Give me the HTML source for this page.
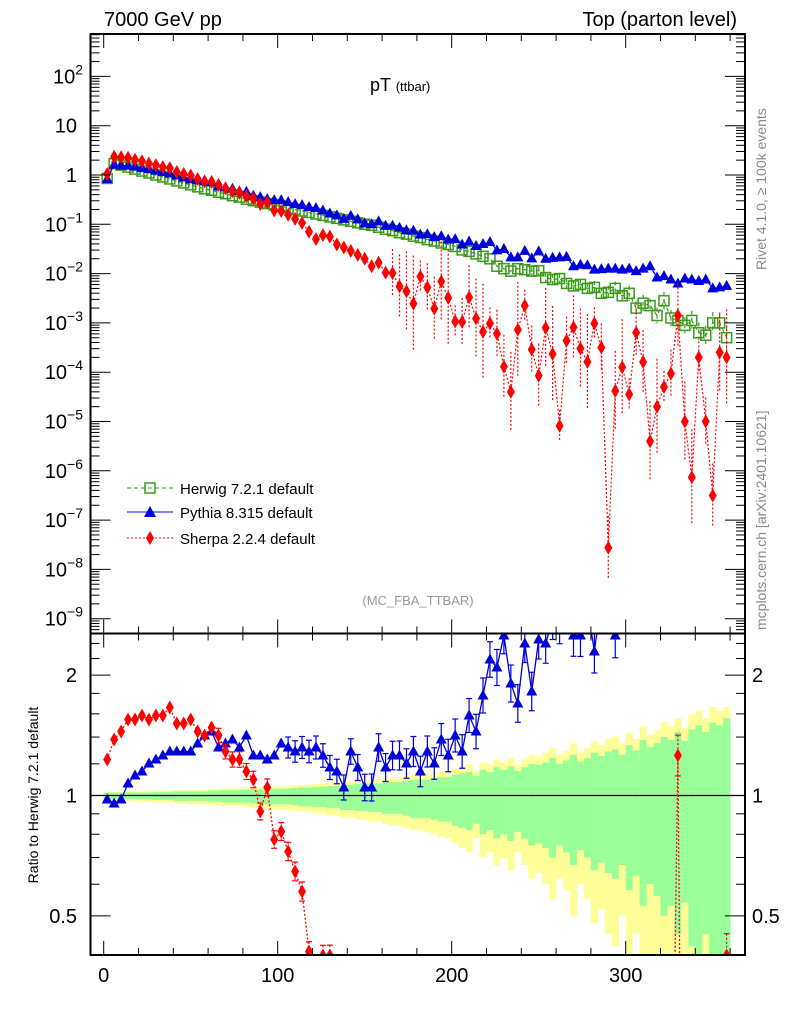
<!DOCTYPE html>
<html><head><meta charset="utf-8"><style>
html,body{margin:0;padding:0;background:#fff;width:786px;height:1024px;overflow:hidden;}
svg{display:block;}
svg text{font-family:"Liberation Sans",sans-serif;}
</style></head><body>
<svg id="chart" width="786" height="1024" xmlns="http://www.w3.org/2000/svg">
<g id="bands"></g>
<g id="marks"></g>
<g id="axes"></g>
<text x="104" y="26" font-size="20">7000 GeV pp</text>
<text x="737" y="26" font-size="20" text-anchor="end">Top (parton level)</text>
<text x="370" y="91" font-size="18">pT <tspan font-size="13">(ttbar)</tspan></text>
<text x="418" y="605" font-size="13" fill="#999" text-anchor="middle">(MC_FBA_TTBAR)</text>
<text transform="translate(766,270) rotate(-90)" font-size="14" fill="#888">Rivet 4.1.0, ≥ 100k events</text>
<text transform="translate(766,630) rotate(-90)" font-size="14" fill="#888">mcplots.cern.ch [arXiv:2401.10621]</text>
<text transform="translate(38,795) rotate(-90)" font-size="14" text-anchor="middle">Ratio to Herwig 7.2.1 default</text>
<g>
<g><line x1="127" y1="488" x2="173" y2="488" stroke="#3a9a1a" stroke-dasharray="4,3"/><rect x="145" y="483" width="10" height="10" fill="none" stroke="#3a9a1a" stroke-width="1.5"/><text x="180" y="494" font-size="15">Herwig 7.2.1 default</text></g>
<g><line x1="127" y1="512" x2="173" y2="512" stroke="#0000dd"/><path d="M150,506 L156,517 L144,517 Z" fill="#0000dd"/><text x="180" y="518" font-size="15">Pythia 8.315 default</text></g>
<g><line x1="127" y1="538" x2="173" y2="538" stroke="#f00" stroke-dasharray="2,2"/><path d="M150,531 L154,538 L150,545 L146,538 Z" fill="#f00"/><text x="180" y="544" font-size="15">Sherpa 2.2.4 default</text></g>
</g>
</svg>
<script>
// bin centres in GeV
const binCenters = [2,6,10,14,18,22,26,30,34,38,42,46,50,54,58,62,66,70,74,78,82,86,90,94,98,102,106,110,114,118,122,126,130,134,138,142,146,150,154,158,162,166,170,174,178,182,186,190,194,198,202,206,210,214,218,222,226,230,234,238,242,246,250,254,258,262,266,270,274,278,282,286,290,294,298,302,306,310,314,318,322,326,330,334,338,342,346,350,354,358];
// log10 of dsigma/dpT
const herwigLog = [-0.07,0.23,0.20,0.16,0.12,0.08,0.04,0.00,-0.04,-0.08,-0.12,-0.16,-0.20,-0.24,-0.28,-0.31,-0.35,-0.38,-0.42,-0.45,-0.49,-0.52,-0.55,-0.58,-0.61,-0.64,-0.67,-0.70,-0.73,-0.76,-0.79,-0.82,-0.85,-0.88,-0.91,-0.94,-0.97,-1.00,-1.02,-1.06,-1.10,-1.13,-1.17,-1.20,-1.24,-1.27,-1.31,-1.34,-1.38,-1.41,-1.45,-1.52,-1.55,-1.60,-1.65,-1.70,-1.85,-1.90,-1.95,-1.90,-1.92,-1.95,-1.94,-2.08,-2.12,-2.10,-2.20,-2.25,-2.22,-2.30,-2.28,-2.40,-2.38,-2.30,-2.45,-2.40,-2.70,-2.60,-2.65,-2.85,-2.55,-2.90,-2.95,-3.05,-2.95,-3.20,-3.25,-3.00,-3.00,-3.30];
const pythiaLog = [-0.08,0.21,0.19,0.19,0.17,0.14,0.12,0.09,0.06,0.03,-0.01,-0.05,-0.09,-0.11,-0.13,-0.15,-0.23,-0.25,-0.28,-0.33,-0.34,-0.42,-0.45,-0.49,-0.51,-0.51,-0.55,-0.59,-0.61,-0.65,-0.67,-0.72,-0.78,-0.82,-0.89,-0.83,-0.90,-0.98,-1.00,-0.94,-1.03,-1.03,-1.07,-1.12,-1.13,-1.21,-1.20,-1.26,-1.24,-1.31,-1.30,-1.41,-1.35,-1.44,-1.40,-1.36,-1.53,-1.50,-1.67,-1.67,-1.54,-1.69,-1.55,-1.70,-1.68,-1.67,-1.66,-1.85,-1.82,-1.83,-1.92,-1.91,-1.90,-1.90,-1.92,-1.90,-1.95,-1.90,-1.85,-2.08,-2.05,-2.12,-2.20,-2.10,-2.12,-2.15,-2.12,-2.30,-2.28,-2.25];
const sherpaLog = [0.02,0.37,0.36,0.35,0.31,0.28,0.23,0.20,0.16,0.14,0.06,0.02,-0.01,-0.08,-0.13,-0.14,-0.20,-0.27,-0.33,-0.36,-0.43,-0.48,-0.59,-0.56,-0.72,-0.73,-0.81,-0.89,-0.97,-1.15,-1.30,-1.22,-1.25,-1.41,-1.47,-1.54,-1.62,-1.70,-1.85,-1.78,-1.98,-1.99,-2.26,-2.36,-2.61,-2.06,-2.28,-2.71,-2.16,-2.49,-2.97,-2.98,-2.48,-2.91,-3.18,-3.01,-3.22,-3.89,-4.40,-3.14,-2.65,-3.54,-4.07,-3.10,-3.63,-5.09,-3.36,-3.09,-3.52,-3.79,-3.01,-3.50,-7.56,-4.38,-3.90,-4.45,-3.20,-3.79,-5.40,-4.70,-4.30,-4.03,-2.85,-5.00,-6.13,-3.70,-5.00,-6.50,-3.60,-3.70];
// relative uncertainties of the Herwig reference
const yellowErr = [0.03,0.03,0.03,0.03,0.035,0.035,0.035,0.04,0.04,0.04,0.045,0.045,0.05,0.05,0.05,0.055,0.055,0.06,0.06,0.06,0.065,0.07,0.07,0.075,0.075,0.08,0.08,0.085,0.09,0.09,0.10,0.10,0.11,0.11,0.12,0.12,0.13,0.13,0.14,0.14,0.15,0.16,0.16,0.17,0.18,0.18,0.19,0.20,0.21,0.22,0.24,0.26,0.28,0.22,0.30,0.28,0.33,0.30,0.35,0.28,0.33,0.38,0.36,0.40,0.45,0.38,0.42,0.50,0.40,0.45,0.52,0.48,0.55,0.58,0.50,0.62,0.55,0.70,0.60,0.65,0.75,0.70,0.80,0.68,0.85,0.90,0.80,0.95,0.90,0.95];
const greenErr = [0.02,0.02,0.02,0.02,0.02,0.02,0.02,0.025,0.025,0.025,0.03,0.03,0.03,0.03,0.03,0.035,0.035,0.04,0.04,0.04,0.04,0.045,0.045,0.05,0.05,0.05,0.05,0.055,0.06,0.06,0.065,0.065,0.07,0.07,0.08,0.08,0.085,0.085,0.09,0.09,0.10,0.10,0.10,0.11,0.12,0.12,0.12,0.13,0.14,0.14,0.16,0.17,0.18,0.15,0.20,0.18,0.22,0.20,0.23,0.19,0.22,0.25,0.24,0.26,0.30,0.25,0.28,0.33,0.27,0.30,0.35,0.32,0.36,0.38,0.33,0.42,0.37,0.47,0.40,0.44,0.50,0.47,0.55,0.46,0.58,0.62,0.55,0.65,0.62,0.70];
const xTicks = [0,100,200,300];
const mainTickExps = [2,1,0,-1,-2,-3,-4,-5,-6,-7,-8,-9];
const ratioTicks = [0.5,1,2];

const NS='http://www.w3.org/2000/svg';
const L=90.5,R=745,TOP=34,MID=633.5,BOT=955;
const binW=4;
function X(v){return 103.7+(v)*1.74;}
function Ym(l){return 175-49.3*l;}
function Yr(r){return 795.5-400*Math.log10(r);}
function mk(tag,attrs,parent){const e=document.createElementNS(NS,tag);for(const k in attrs)e.setAttribute(k,attrs[k]);parent.appendChild(e);return e;}
const marks=document.getElementById('marks'),axes=document.getElementById('axes'),bands=document.getElementById('bands');

const defs=mk('defs',{},document.getElementById('chart'));
const c1=mk('clipPath',{id:'cm'},defs);mk('rect',{x:L,y:TOP,width:R-L,height:MID-TOP},c1);
const c2=mk('clipPath',{id:'cr'},defs);mk('rect',{x:L,y:MID,width:R-L,height:BOT-MID},c2);
const gm=mk('g',{'clip-path':'url(#cm)'},marks);
const gr=mk('g',{'clip-path':'url(#cr)'},marks);
const gb=mk('g',{'clip-path':'url(#cr)'},bands);

binCenters.forEach((c,i)=>{
  const x0=X(c-binW/2),w=X(c+binW/2)-x0;
  const lo=Math.max(1-yellowErr[i],0.01),hi=1+0.7*yellowErr[i];
  const r=mk('rect',{x:x0,y:Yr(hi),width:w+0.3,height:Yr(lo)-Yr(hi),fill:'#ffff99'},gb);
  
  
  const lo2=Math.max(1-greenErr[i],0.01),hi2=1+0.8*greenErr[i];
  const g=mk('rect',{x:x0,y:Yr(hi2),width:w+0.3,height:Yr(lo2)-Yr(hi2),fill:'#99ff99'},gb);
  
  
});
mk('line',{x1:L,y1:Yr(1),x2:R,y2:Yr(1),stroke:'#000','stroke-width':1.2},bands);

function tri(x,y,col,p){return mk('path',{d:`M${x},${y-6} L${x+5.5},${y+4} L${x-5.5},${y+4} Z`,fill:col},p);}
function dia(x,y,col,p){return mk('path',{d:`M${x},${y-7} L${x+4},${y} L${x},${y+7} L${x-4},${y} Z`,fill:col},p);}
function sq(x,y,col,p){return mk('rect',{x:x-5,y:y-5,width:10,height:10,fill:'none',stroke:col,'stroke-width':1.5},p);}

function drawSeries(vals,col,dash,shape,name,errs){
  const pts=binCenters.map((c,i)=>[X(c),Ym(vals[i])]);
  const pl=mk('polyline',{points:pts.map(p=>p.join(',')).join(' '),fill:'none',stroke:col,'stroke-width':1.2},gm);
  if(dash)pl.setAttribute('stroke-dasharray',dash);
  
  
  pts.forEach((p,i)=>{
    if(errs){const e=errs(i);if(e>0){const ln=mk('line',{x1:p[0],y1:p[1]-e,x2:p[0],y2:p[1]+e,stroke:col,'stroke-width':1.2},gm);if(dash)ln.setAttribute('stroke-dasharray',dash);}}
    const m=shape(p[0],p[1],col,gm);
    
    
  });
}
drawSeries(herwigLog,'#3a9a1a','4,3',sq,'herwig',i=>i>60?49.3*Math.log10(1+greenErr[i]):0);
drawSeries(pythiaLog,'#0000dd',null,tri,'pythia',null);
drawSeries(sherpaLog,'#ff0000','2,2',dia,'sherpa',i=>i>40?16+(i%5)*8:0);

function drawRatio(vals,col,dash,shape,name,errf){
  const pts=binCenters.map((c,i)=>[X(c),Yr(Math.pow(10,vals[i]-herwigLog[i]))]);
  const pl=mk('polyline',{points:pts.map(p=>p.join(',')).join(' '),fill:'none',stroke:col,'stroke-width':1.3},gr);
  if(dash)pl.setAttribute('stroke-dasharray',dash);
  
  
  pts.forEach((p,i)=>{
    const e=errf(i);
    if(e>0){const ln=mk('line',{x1:p[0],y1:p[1]-e,x2:p[0],y2:p[1]+e,stroke:col,'stroke-width':1.2},gr);if(dash)ln.setAttribute('stroke-dasharray',dash);
      mk('line',{x1:p[0]-3,y1:p[1]-e,x2:p[0]+3,y2:p[1]-e,stroke:col,'stroke-width':1.2},gr);mk('line',{x1:p[0]-3,y1:p[1]+e,x2:p[0]+3,y2:p[1]+e,stroke:col,'stroke-width':1.2},gr);}
    const m=shape(p[0],p[1],col,gr);
    
    
  });
}
drawRatio(pythiaLog,'#0000dd',null,tri,'pythia',i=>i>25?Math.min(4+i*0.25,25):0);
drawRatio(sherpaLog,'#ff0000','2,2',dia,'sherpa',i=>i>15?4+i*0.2:0);

mk('rect',{x:L,y:TOP,width:R-L,height:MID-TOP,fill:'none',stroke:'#000','stroke-width':2},axes);
mk('rect',{x:L,y:MID,width:R-L,height:BOT-MID,fill:'none',stroke:'#000','stroke-width':2},axes);

for(let v=0;v<=360;v+=20){
  const big=v%100===0,len=big?14:7;
  [TOP,MID,BOT].forEach(y0=>{
    const dir=(y0===BOT)?-1:1;
    if(y0===MID){mk('line',{x1:X(v),y1:MID,x2:X(v),y2:MID-len,stroke:'#000'},axes);mk('line',{x1:X(v),y1:MID,x2:X(v),y2:MID+len,stroke:'#000'},axes);}
    else mk('line',{x1:X(v),y1:y0,x2:X(v),y2:y0+dir*len,stroke:'#000'},axes);
  });
}
xTicks.forEach(v=>{
  const t=mk('text',{x:X(v),y:982,'font-size':20,'text-anchor':'middle'},axes);t.textContent=v;
  
  
});
for(let e=-10;e<=3;e++){
  for(let k=1;k<10;k++){
    const y=Ym(e+Math.log10(k));if(y<TOP||y>MID)continue;
    const len=k===1?20:9;
    mk('line',{x1:L,y1:y,x2:L+len,y2:y,stroke:'#000'},axes);
    mk('line',{x1:R,y1:y,x2:R-len,y2:y,stroke:'#000'},axes);
  }
}
mainTickExps.forEach(e=>{
  const y=Ym(e);
  const t=mk('text',{x:77,y:y+7,'font-size':20,'text-anchor':'end'},axes);
  
  
  if(e===0)t.textContent='1';else if(e===1)t.textContent='10';
  else{t.textContent='10';const s=mk('tspan',{dy:-9,'font-size':14},t);s.textContent=String(e).replace('-','−');
    t.setAttribute('x',83);}
});
[0.4,0.5,0.6,0.7,0.8,0.9,1,1.2,1.4,1.6,1.8,2,2.2,2.4].forEach(r=>{
  const y=Yr(r);if(y<MID||y>BOT)return;
  const big=ratioTicks.includes(r),len=big?20:9;
  mk('line',{x1:L,y1:y,x2:L+len,y2:y,stroke:'#000'},axes);
  mk('line',{x1:R,y1:y,x2:R-len,y2:y,stroke:'#000'},axes);
});
ratioTicks.forEach(r=>{
  const y=Yr(r);
  const t=mk('text',{x:77,y:y+7,'font-size':20,'text-anchor':'end'},axes);t.textContent=r;
  
  
  const t2=mk('text',{x:752,y:y+7,'font-size':20},axes);t2.textContent=r;
  
  
});
</script>
</body></html>
